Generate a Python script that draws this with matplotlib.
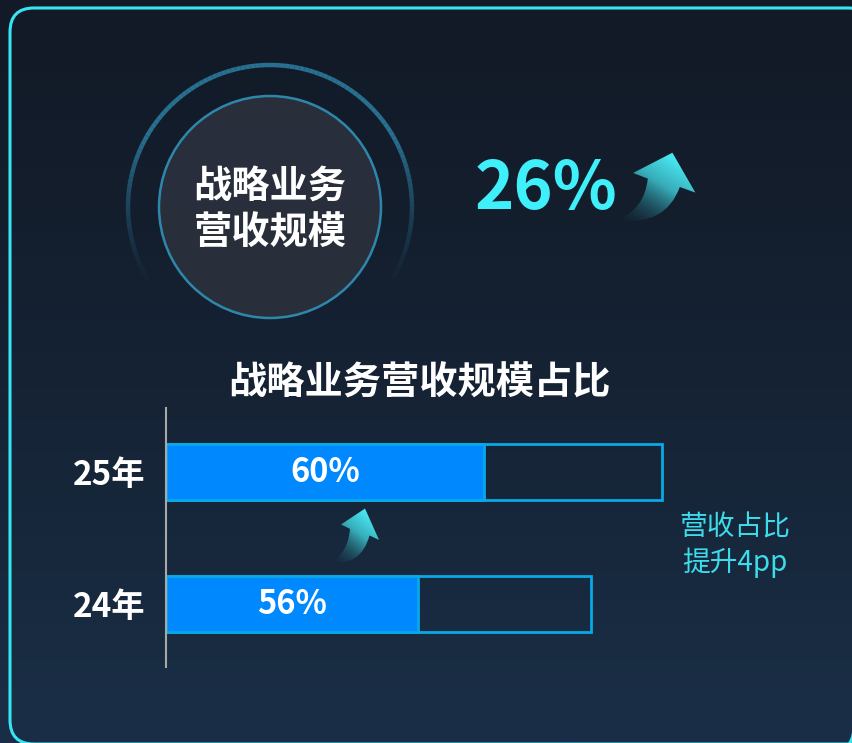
import matplotlib
matplotlib.use('Agg')
import matplotlib.pyplot as plt
import numpy as np
from matplotlib.patches import Circle, FancyBboxPatch, PathPatch
from matplotlib.path import Path
from matplotlib.collections import LineCollection
from matplotlib.colors import to_rgb

plt.rcParams['font.family'] = ['Noto Sans CJK SC', 'DejaVu Sans']

# data
years = ['24年', '25年']
share_labels = ['56%', '60%']
fill_len = [50.4, 63.6]    # filled bar length as drawn (axis units 0-100)
box_len = [85.0, 99.2]     # outlined bar length as drawn
growth = '26%'
circle_title = ['战略业务', '营收规模']
chart_title = '战略业务营收规模占比'
note = '营收占比\n提升4pp'

W, H = 853, 743
fig = plt.figure(figsize=(W / 100, H / 100), dpi=100)
bg = fig.add_axes([0, 0, 1, 1])
bg.axis('off')

# background gradient
top = np.array(to_rgb('#121a27'))
bot = np.array(to_rgb('#1a2f47'))
t = np.linspace(0, 1, 256)[:, None, None] ** 1.3
grad = top * (1 - t) + bot * t
grad = np.repeat(grad, 4, axis=1)
bg.imshow(grad, extent=(0, W, H, 0), aspect='auto', zorder=0)

# outer frame: only the top-right corner shows, the right edge runs off the picture
frame = FancyBboxPatch((10, 8), 862, 736, boxstyle='round,pad=0,rounding_size=24',
                       fill=False, ec='#38e4f2', lw=2.2, zorder=5)
bg.add_patch(frame)

# ring around the circle, fading towards the bottom
cx, cy = 270, 207
th = np.radians(np.arange(0, 361, 2))
xs = cx + 142 * np.cos(th)
ys = cy - 142 * np.sin(th)
segs = [[(xs[i], ys[i]), (xs[i + 1], ys[i + 1])] for i in range(len(th) - 1)]
mid = (th[:-1] + th[1:]) / 2
alpha = np.clip((np.sin(mid) + 0.6) / 1.1, 0, 1) ** 1.3 * 0.9
ring_rgb = to_rgb('#2b7a9c')
cols = [(*ring_rgb, a) for a in alpha]
bg.add_collection(LineCollection(segs, colors=cols, linewidths=3.2, zorder=2))

bg.add_patch(Circle((cx, cy), 111, fc='#2a303c', ec='#2f8db2', lw=1.8, alpha=0.95, zorder=3))
bg.text(cx, 187, circle_title[0], color='white', fontsize=27.5, fontweight='bold',
        ha='center', va='center', zorder=4)
bg.text(cx, 233, circle_title[1], color='white', fontsize=27.5, fontweight='bold',
        ha='center', va='center', zorder=4)

bg.text(546, 190, growth, color='#3ff0fa', fontsize=48, fontweight='bold',
        ha='center', va='center', zorder=4)


def draw_arrow(ax, x0, y0, w, h):
    pts = [(0.02, 0.02), (0.62, -0.06), (0.79, 0.50), (0.98, 0.42), (0.70, 0.99),
           (0.22, 0.70), (0.40, 0.62), (0.36, 0.18), (0.02, 0.02), (0.02, 0.02)]
    codes = [Path.MOVETO, Path.CURVE3, Path.CURVE3, Path.LINETO, Path.LINETO,
             Path.LINETO, Path.LINETO, Path.CURVE3, Path.CURVE3, Path.CLOSEPOLY]
    verts = [(x0 + u * w, y0 + (1 - v) * h) for u, v in pts]
    patch = PathPatch(Path(verts, codes), fc='none', ec='none', transform=ax.transData)
    ax.add_patch(patch)
    n = 80
    u = np.linspace(0, 1, n)[None, :]
    v = np.linspace(1, 0, n)[:, None]
    s = np.clip((u + 1.4 * v) / 2.0, 0, 1)
    c0 = np.array(to_rgb('#173a4c'))
    c1 = np.array(to_rgb('#48e6f0'))
    img = np.zeros((n, n, 4))
    img[..., :3] = c0 * (1 - s[..., None]) + c1 * s[..., None]
    img[..., 3] = np.clip(s * 1.6 - 0.05, 0, 1)
    im = ax.imshow(img, extent=(x0, x0 + w, y0 + h, y0), aspect='auto', zorder=4)
    im.set_clip_path(patch)


draw_arrow(bg, 615, 152, 82, 70)
draw_arrow(bg, 330, 508, 50, 55)

bg.text(419, 383, chart_title, color='white', fontsize=27.5, fontweight='bold',
        ha='center', va='center', zorder=4)
bg.text(735, 545, note, color='#3ddcec', fontsize=20, ha='center', va='center',
        linespacing=1.2, zorder=4)

bg.set_xlim(0, W)
bg.set_ylim(H, 0)

# bar chart
ax = fig.add_axes([166 / W, 1 - 667 / H, 500 / W, 259 / H])
ax.set_facecolor('none')
pos = np.arange(len(years))
bh = 0.424
ax.barh(pos, box_len, height=bh, fill=False, edgecolor='#0aa8e8', linewidth=2)
ax.barh(pos, fill_len, height=bh, color='#0088ff', edgecolor='#0aa8e8', linewidth=2)
for p, fl, lab in zip(pos, fill_len, share_labels):
    ax.text(fl / 2, p, lab, color='white', fontsize=23.5, fontweight='bold',
            ha='center', va='center')
ax.set_xlim(0, 100)
ax.set_ylim(-0.477, 1.485)
for sp in ['top', 'right', 'bottom']:
    ax.spines[sp].set_visible(False)
ax.spines['left'].set_color('#a8a8a8')
ax.spines['left'].set_linewidth(1.5)
ax.set_xticks([])
ax.set_yticks(pos)
ax.set_yticklabels(years, color='white', fontsize=24, fontweight='bold')
ax.tick_params(axis='y', length=0, pad=15)

fig.savefig('out.png', dpi=100, facecolor='#121a27')
